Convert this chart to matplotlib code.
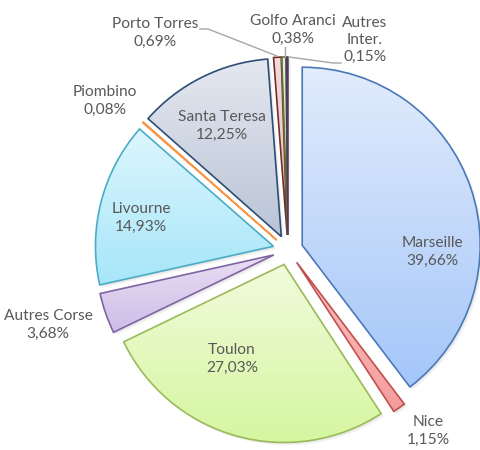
import numpy as np
import matplotlib
matplotlib.use("Agg")
import matplotlib.pyplot as plt
from matplotlib.colors import LinearSegmentedColormap
from matplotlib.patches import PathPatch
from matplotlib.transforms import Affine2D

# ---- data ----
categories = ["Marseille", "Nice", "Toulon", "Autres Corse", "Livourne",
              "Piombino", "Santa Teresa", "Porto Torres", "Golfo Aranci", "Autres\nInter."]
values = [39.66, 1.15, 27.03, 3.68, 14.93, 0.08, 12.25, 0.69, 0.38, 0.15]

# ---- styles ----
edge_colors = ["#4a78b8", "#c0504d", "#9bbb59", "#8064a2", "#4bacc6",
               "#f79646", "#2c4d75", "#772c2a", "#5f7530", "#4d3b62"]
top_colors = ["#e2ecfc", "#fbc4c4", "#f0fbdc", "#e8e0f3", "#ddf6fd",
              "#fbd2b0", "#e4e8f0", "#f2dcdc", "#e6eed8", "#e0dae8"]
bot_colors = ["#a4c6f9", "#f49c9c", "#d6f6a0", "#cdbde7", "#a6e6f9",
              "#f8b47c", "#bac4d6", "#e4b8b8", "#cedcb4", "#c4b8d4"]

W, H = 481, 450
fig = plt.figure(figsize=(W / 100, H / 100), dpi=100)
ax = fig.add_axes([0, 0, 1, 1])

cx, cy, R = 288, 200, 178
explode = [15] * len(values)   # absolute offset (pixels = data units here)
wedges, _ = ax.pie(values, explode=explode, startangle=90, counterclock=False,
                   center=(cx, cy), radius=R, normalize=True,
                   wedgeprops=dict(linewidth=1.2))

ax.set_xlim(0, W)
ax.set_ylim(0, H)
ax.set_aspect("auto")
ax.axis("off")

# shadows + gradients
for i, w in enumerate(wedges):
    path = w.get_path()
    for off, a in [(3.0, 0.08), (1.8, 0.10)]:
        sp = Affine2D().translate(off, -off).transform_path(path)
        ax.add_patch(PathPatch(sp, facecolor="#808080", edgecolor="none",
                               alpha=a, zorder=0.5))
    w.set_facecolor("none")
    w.set_edgecolor(edge_colors[i])
    w.set_zorder(3)
    ext = path.get_extents()
    cmap = LinearSegmentedColormap.from_list("g", [bot_colors[i], top_colors[i]])
    grad = np.linspace(0, 1, 256).reshape(-1, 1)
    im = ax.imshow(grad, cmap=cmap, origin="lower", aspect="auto",
                   extent=(ext.x0 - 1, ext.x1 + 1, ext.y0 - 1, ext.y1 + 1), zorder=2,
                   interpolation="bilinear")
    clip = PathPatch(path, transform=ax.transData, facecolor="none", edgecolor="none")
    ax.add_patch(clip)
    im.set_clip_path(clip)

ax.set_xlim(0, W)
ax.set_ylim(0, H)

# ---- labels ----
label_pos = [(432, 252), (428, 431), (232, 359), (48, 325), (141, 218),
             (105, 101), (222, 126), (155, 33), (293, 30), (365, 40)]
txtcol = "#595959"
for i, (name, v) in enumerate(zip(categories, values)):
    pct = f"{v:.2f}".replace(".", ",") + "%"
    x, y = label_pos[i]
    ax.text(x, H - y, f"{name}\n{pct}", ha="center", va="center", fontsize=11.2,
            color=txtcol, family=["Lato", "DejaVu Sans"], linespacing=1.28, zorder=5)

# leader lines
lc = "#a6a6a6"
ax.plot([200, 208, 277], [H - 29, H - 29, H - 56], color=lc, lw=1, zorder=4)
ax.plot([285, 285], [H - 47, H - 57], color=lc, lw=1, zorder=4)
ax.plot([289, 333, 341], [H - 57, H - 63, H - 63], color=lc, lw=1, zorder=4)

fig.savefig("out.png", dpi=100)
